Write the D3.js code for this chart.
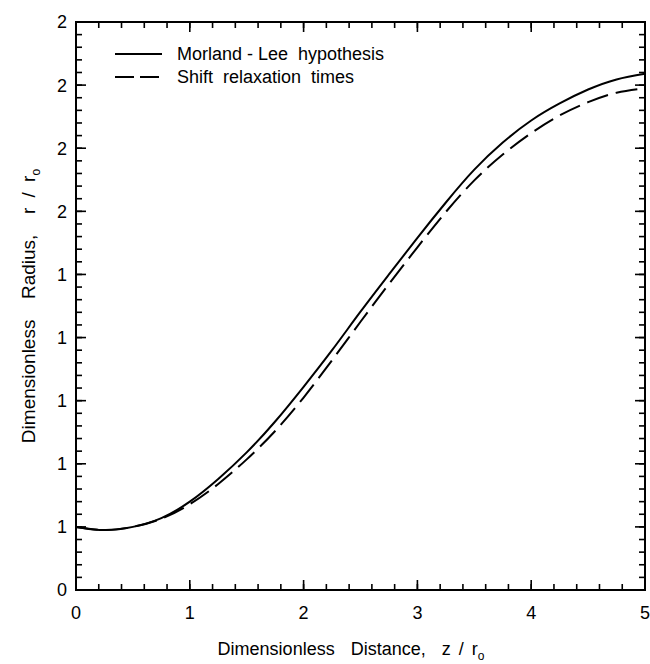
<!DOCTYPE html>
<html>
<head>
<meta charset="utf-8">
<script src="https://cdn.jsdelivr.net/npm/d3@7"></script>
<style>
  html, body { margin: 0; padding: 0; background: #fff; }
  svg { display: block; }
  text { font-family: "Liberation Sans", Arial, sans-serif; fill: #000; }
</style>
</head>
<body>
<div id="chart"></div>
<script>
// ---- data ----
const zValues = [0, 0.25, 0.5, 0.75, 1.0, 1.25, 1.5, 1.75, 2.0, 2.25, 2.5, 2.75, 3.0, 3.25, 3.5, 3.75, 4.0, 4.25, 4.5, 4.75, 5.0];
const morlandLee = [1.000, 0.995, 1.000, 1.014, 1.040, 1.076, 1.118, 1.167, 1.222, 1.280, 1.341, 1.400, 1.458, 1.514, 1.566, 1.609, 1.644, 1.671, 1.693, 1.709, 1.718];
const shiftRelax = [1.000, 0.995, 1.000, 1.013, 1.036, 1.068, 1.107, 1.152, 1.205, 1.264, 1.325, 1.385, 1.443, 1.499, 1.549, 1.590, 1.624, 1.652, 1.673, 1.688, 1.695];
const seriesNames = ["Morland - Lee  hypothesis", "Shift  relaxation  times"];
const xTickValues = [0, 1, 2, 3, 4, 5];
const xTickLabels = ["0", "1", "2", "3", "4", "5"];
const yTickValues = [0.9, 1.0, 1.1, 1.2, 1.3, 1.4, 1.5, 1.6, 1.7, 1.8];
const yTickLabels = ["0", "1", "1", "1", "1", "1", "2", "2", "2", "2"];

(function () {
const W = 650, H = 664;
const pL = 76, pR = 645, pT = 22, pB = 590;

const svg = d3.select("#chart").append("svg").attr("width", W).attr("height", H);

const x = d3.scaleLinear().domain([0, 5]).range([pL, pR]);
const y = d3.scaleLinear().domain([0.9, 1.8]).range([pB, pT]);

const xMinor = d3.range(0, 5.0001, 0.2);
const yMinor = d3.range(0.9, 1.80001, 0.02);

const majorLen = 10, minorLen = 6;

const g = svg.append("g").attr("stroke", "#000").attr("stroke-width", 1.6);
xMinor.forEach(v => {
  g.append("line").attr("x1", x(v)).attr("x2", x(v)).attr("y1", pB).attr("y2", pB - minorLen);
  g.append("line").attr("x1", x(v)).attr("x2", x(v)).attr("y1", pT).attr("y2", pT + minorLen);
});
yMinor.forEach(v => {
  g.append("line").attr("y1", y(v)).attr("y2", y(v)).attr("x1", pL).attr("x2", pL + minorLen);
  g.append("line").attr("y1", y(v)).attr("y2", y(v)).attr("x1", pR).attr("x2", pR - minorLen);
});
xTickValues.forEach(v => {
  g.append("line").attr("x1", x(v)).attr("x2", x(v)).attr("y1", pB).attr("y2", pB - majorLen);
  g.append("line").attr("x1", x(v)).attr("x2", x(v)).attr("y1", pT).attr("y2", pT + majorLen);
});
yTickValues.forEach(v => {
  g.append("line").attr("y1", y(v)).attr("y2", y(v)).attr("x1", pL).attr("x2", pL + majorLen);
  g.append("line").attr("y1", y(v)).attr("y2", y(v)).attr("x1", pR).attr("x2", pR - majorLen);
});

svg.append("rect").attr("x", pL).attr("y", pT).attr("width", pR - pL).attr("height", pB - pT)
  .attr("fill", "none").attr("stroke", "#000").attr("stroke-width", 2);

const fs = 18;
svg.append("g").selectAll("text").data(xTickValues).join("text")
  .attr("x", d => x(d)).attr("y", pB + 29)
  .attr("text-anchor", "middle").attr("font-size", fs)
  .text((d, i) => xTickLabels[i]);
svg.append("g").selectAll("text").data(yTickValues).join("text")
  .attr("x", pL - 9).attr("y", d => y(d)).attr("dy", "0.36em")
  .attr("text-anchor", "end").attr("font-size", fs)
  .text((d, i) => yTickLabels[i]);

const xt = svg.append("text").attr("x", 351).attr("y", 655).attr("text-anchor", "middle")
  .attr("font-size", fs).style("white-space", "pre").attr("word-spacing", 3);
xt.append("tspan").text("Dimensionless  Distance,  z / r");
xt.append("tspan").attr("font-size", 12).attr("dy", 5).text("o");

const yt = svg.append("text").attr("transform", `translate(35,${(pT + pB) / 2}) rotate(-90)`)
  .attr("text-anchor", "middle").attr("font-size", 19).style("white-space", "pre").attr("word-spacing", 5);
yt.append("tspan").text("Dimensionless  Radius,  r / r");
yt.append("tspan").attr("font-size", 12).attr("dy", 5).text("o");

const line = d3.line().x(d => x(d[0])).y(d => y(d[1])).curve(d3.curveNatural);
const dataA = zValues.map((z, i) => [z, morlandLee[i]]);
const dataB = zValues.map((z, i) => [z, shiftRelax[i]]);
svg.append("path").datum(dataA).attr("d", line).attr("fill", "none").attr("stroke", "#000").attr("stroke-width", 2);
svg.append("path").datum(dataB).attr("d", line).attr("fill", "none").attr("stroke", "#000").attr("stroke-width", 2)
  .attr("stroke-dasharray", "22,8");

const legend = [
  { name: seriesNames[0], dash: null, yy: 54 },
  { name: seriesNames[1], dash: "19,6", yy: 77 }
];
legend.forEach(L => {
  svg.append("line").attr("x1", 115).attr("x2", 162).attr("y1", L.yy).attr("y2", L.yy)
    .attr("stroke", "#000").attr("stroke-width", 1.8).attr("stroke-dasharray", L.dash);
  svg.append("text").attr("x", 177).attr("y", L.yy).attr("dy", "0.36em")
    .attr("font-size", fs).style("white-space", "pre").text(L.name);
});
})();
</script>
</body>
</html>
